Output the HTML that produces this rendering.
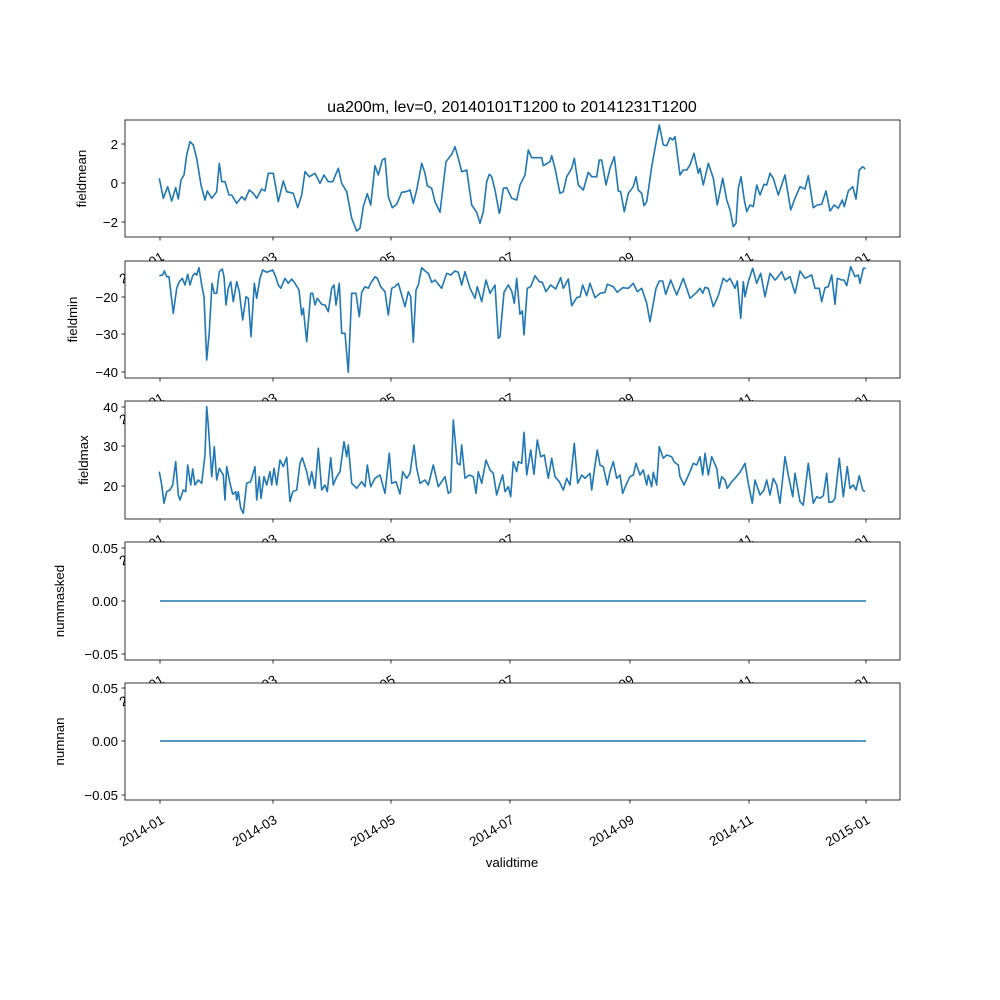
<!DOCTYPE html>
<html><head><meta charset="utf-8"><style>body{margin:0;background:#fff}svg{display:block}text{font-family:"Liberation Sans",sans-serif;font-size:13.3px;fill:#000}</style></head>
<body>
<svg id="s" width="1000" height="1000" xmlns="http://www.w3.org/2000/svg">
<rect width="1000" height="1000" fill="#fff"/>
<text x="512" y="112" text-anchor="middle" style="font-size:16px">ua200m, lev=0, 20140101T1200 to 20141231T1200</text>
</svg>
<script>
const NS="http://www.w3.org/2000/svg",S=document.getElementById('s');
function el(t,a,txt){const e=document.createElementNS(NS,t);for(const k in a)e.setAttribute(k,a[k]);if(txt!=null)e.textContent=txt;S.appendChild(e);return e;}
const P=[
{t:120,b:237,lab:"fieldmean",lx:86,yt:[[144,"2"],[183,"0"],[222,"−2"]],
 z:[[120,115,[118,190,130,250,143,215,155,258,167,218,175,252,183,195,192,180,200,120,210,80,220,90,230,130,243,210,255,255,262,228,275,250,290,230,298,145,305,200,315,200,327,240,335,240,350,265,365,245,375,255,388,225,400,235,410,250,425,222,435,228,445,175,460,175,475,260,490,198,500,230,520,235,533,278,545,240,555,170,568,185,585,175,600,205,612,180,625,200,638,200,655,160,665,205,680,230,695,310,710,348,720,340,730,275,742,236,752,270,765,152,775,180,787,135,795,130,805,245,817,278,830,268,845,232,858,230,870,225,880,265,890,225,905,145,915,175,922,212,935,220,945,260,960,292,978,140,995,118,1005,95,1015,130,1025,170,1040,165,1055,270,1070,292,1080,325,1090,290,1100,200,1108,178,1115,185,1125,225,1138,295,1150,220,1160,215,1175,245,1190,255]],
 [500,115,[0,290,10,220,20,218,35,250,50,255,60,210,75,180,85,105,95,128,110,128,125,128,130,152,150,140,155,122,165,160,180,235,190,230,200,185,215,160,223,130,235,210,250,225,265,172,275,185,290,185,298,135,305,135,318,210,330,160,343,125,355,228,362,230,373,290,385,235,400,215,408,185,415,225,425,235,432,272,440,260,455,155,465,100,478,30,490,90,500,92,510,68,518,75,525,65,540,180,550,165,560,165,570,150,582,115,595,175,600,160,610,210,625,145,640,190,652,270,668,190,680,255,690,285,700,335,708,325,715,220,723,185,733,255,740,290,750,270,760,275,770,210,780,240,792,208,800,210,810,175,820,190,835,240,855,180,872,285,885,250,900,215,915,222,925,182,940,278,952,270,965,268,978,228,990,288,1003,270,1015,280,1027,255,1033,275,1045,228,1058,215,1068,252,1078,165,1088,155,1096,162]]]},
{t:261,b:378,lab:"fieldmin",lx:77,yt:[[297,"−20"],[334,"−30"],[372,"−40"]],
 z:[[120,255,[118,62,128,60,133,48,140,65,147,65,160,175,170,100,177,82,187,70,195,90,203,58,210,90,218,62,225,55,230,60,237,38,245,90,252,125,260,315,268,230,276,85,283,115,290,115,298,50,307,42,312,65,318,150,325,100,332,80,340,140,350,80,358,110,368,195,378,125,385,130,393,245,403,85,410,130,420,70,428,45,440,52,458,45,467,65,475,90,482,100,495,70,505,85,515,72,525,85,537,105,545,180,550,160,560,260,572,115,578,115,585,150,592,130,605,148,615,150,625,170,635,100,642,90,648,150,658,85,665,235,675,235,685,352,695,115,708,115,718,185,725,112,735,95,745,100,752,85,765,65,772,70,782,95,795,110,805,180,815,100,825,95,835,85,845,120,855,155,865,110,872,125,880,262,888,105,895,90,905,38,915,48,925,55,935,82,945,75,955,88,965,100,980,55,992,60,1005,48,1015,52,1025,90,1035,50,1050,100,1065,130,1072,95,1085,140,1098,75,1110,115,1125,90,1135,250,1145,210,1155,110,1165,95,1180,130,1185,140,1192,105]],
 [500,255,[0,245,12,112,25,90,35,108,43,145,50,70,60,178,67,168,72,240,82,100,92,95,105,62,118,80,127,82,138,110,152,90,167,102,182,68,190,100,205,72,215,152,230,128,240,125,248,90,260,122,270,85,285,128,300,115,315,112,322,88,340,95,352,112,368,98,385,100,400,85,412,110,425,100,440,145,450,200,468,100,478,78,488,78,497,118,512,75,530,120,550,70,570,130,590,112,600,100,608,115,615,97,625,100,640,155,655,122,670,70,680,80,690,70,705,100,712,78,722,190,730,80,735,125,745,80,758,40,770,85,782,55,795,125,810,55,825,75,830,70,845,50,855,75,870,65,885,115,900,48,915,70,935,60,945,100,958,100,965,140,975,98,985,95,995,60,1005,148,1012,70,1025,75,1032,75,1040,92,1052,35,1065,65,1075,60,1080,85,1090,40,1097,40]]]},
{t:401,b:519,lab:"fieldmax",lx:88,yt:[[407,"40"],[446,"30"],[486,"20"]],
 z:[[120,395,[118,230,125,270,132,325,140,290,150,285,158,270,167,200,175,300,180,315,190,285,197,290,203,210,212,270,218,222,225,270,235,255,245,265,255,180,260,35,265,90,275,245,283,155,290,255,298,220,310,240,315,315,320,215,330,265,338,298,347,290,350,315,355,290,362,340,370,355,380,265,392,260,405,215,410,315,418,245,423,310,432,245,440,270,450,230,455,270,462,220,470,270,480,195,490,215,500,187,510,320,518,290,530,285,540,205,547,188,560,230,568,270,575,230,585,280,595,160,605,285,615,270,622,290,632,188,640,270,650,245,660,230,672,140,680,185,685,150,695,265,710,280,725,260,735,275,742,210,752,275,765,250,780,240,795,295,808,175,815,265,828,260,840,297,848,230,860,250,870,235,882,150,890,220,900,265,915,255,925,270,940,210,955,275,975,245,985,295,992,290,1000,75,1012,205,1020,210,1025,150,1035,250,1048,240,1060,245,1068,295,1075,230,1085,265,1098,195,1110,225,1120,235,1130,300,1145,240,1160,290,1172,305,1180,205,1185,195]],
 [500,395,[0,265,8,240,15,290,25,275,32,305,40,200,50,230,55,200,65,205,72,112,80,240,92,165,102,238,112,135,122,185,133,180,145,250,155,190,165,245,178,260,190,285,200,250,210,270,223,145,233,265,245,240,255,250,270,235,275,285,283,225,292,165,300,210,310,215,322,270,330,230,340,200,350,250,360,240,368,295,380,265,390,245,400,240,408,205,420,240,430,225,440,270,445,240,455,275,460,232,470,270,478,155,490,190,500,180,515,185,522,200,535,210,540,245,552,270,570,230,580,205,590,210,600,185,608,240,615,175,625,240,635,185,650,220,658,280,665,245,675,255,682,280,695,260,705,250,720,232,735,205,745,265,757,325,765,255,780,300,792,285,800,255,810,300,820,250,830,270,840,325,855,185,865,240,878,305,885,235,900,320,910,330,925,205,940,325,950,305,960,310,970,302,980,235,987,322,998,320,1005,310,1018,190,1030,305,1042,215,1050,280,1060,270,1068,285,1078,242,1088,285,1095,290]]]},
{t:542,b:660,lab:"nummasked",lx:64,yt:[[548,"0.05"],[601,"0.00"],[654,"−0.05"]],flat:601},
{t:683,b:800,lab:"numnan",lx:64,yt:[[688,"0.05"],[741,"0.00"],[795,"−0.05"]],flat:741}];
const XT=[[160,"2014-01"],[273,"2014-03"],[391,"2014-05"],[510,"2014-07"],[630,"2014-09"],[749,"2014-11"],[866,"2015-01"]];
P.forEach(p=>{
 el('rect',{x:125,y:p.t,width:775,height:p.b-p.t,fill:'#fff'});
 let pts="";
 if(p.flat){pts=`160,${p.flat} 866,${p.flat}`;}
 else{
  const first=p.z[0],second=p.z[1],arr=[];
  const cut=second[0]+second[2][0]/3;
  for(let i=0;i<first[2].length;i+=2){const x=first[0]+first[2][i]/3;if(x<cut)arr.push([x,first[1]+first[2][i+1]/3]);}
  for(let i=0;i<second[2].length;i+=2){arr.push([second[0]+second[2][i]/3,second[1]+second[2][i+1]/3]);}
  pts=arr.map(q=>q[0].toFixed(1)+","+q[1].toFixed(1)).join(" ");
 }
 el('polyline',{points:pts,fill:'none',stroke:'#1f77b4','stroke-width':1.6,'stroke-linejoin':'round'});
 el('rect',{x:125,y:p.t,width:775,height:p.b-p.t,fill:'none',stroke:'#000','stroke-width':0.8});
 p.yt.forEach(([y,l])=>{el('line',{x1:121.5,x2:125,y1:y,y2:y,stroke:'#000','stroke-width':0.8});el('text',{x:118,y:y+5,'text-anchor':'end'},l);});
 el('text',{x:p.lx,y:(p.t+p.b)/2,'text-anchor':'middle',transform:`rotate(-90 ${p.lx} ${(p.t+p.b)/2})`},p.lab);
 XT.forEach(([x,l])=>{el('line',{x1:x,x2:x,y1:p.b,y2:p.b+3.5,stroke:'#000','stroke-width':0.8});
  const tx=x+3,ty=p.b+19;el('text',{x:tx,y:ty+4,'text-anchor':'end',transform:`rotate(-30 ${tx} ${ty})`},l);});
});
el('text',{x:512,y:867,'text-anchor':'middle'},"validtime");
</script>
</body></html>
